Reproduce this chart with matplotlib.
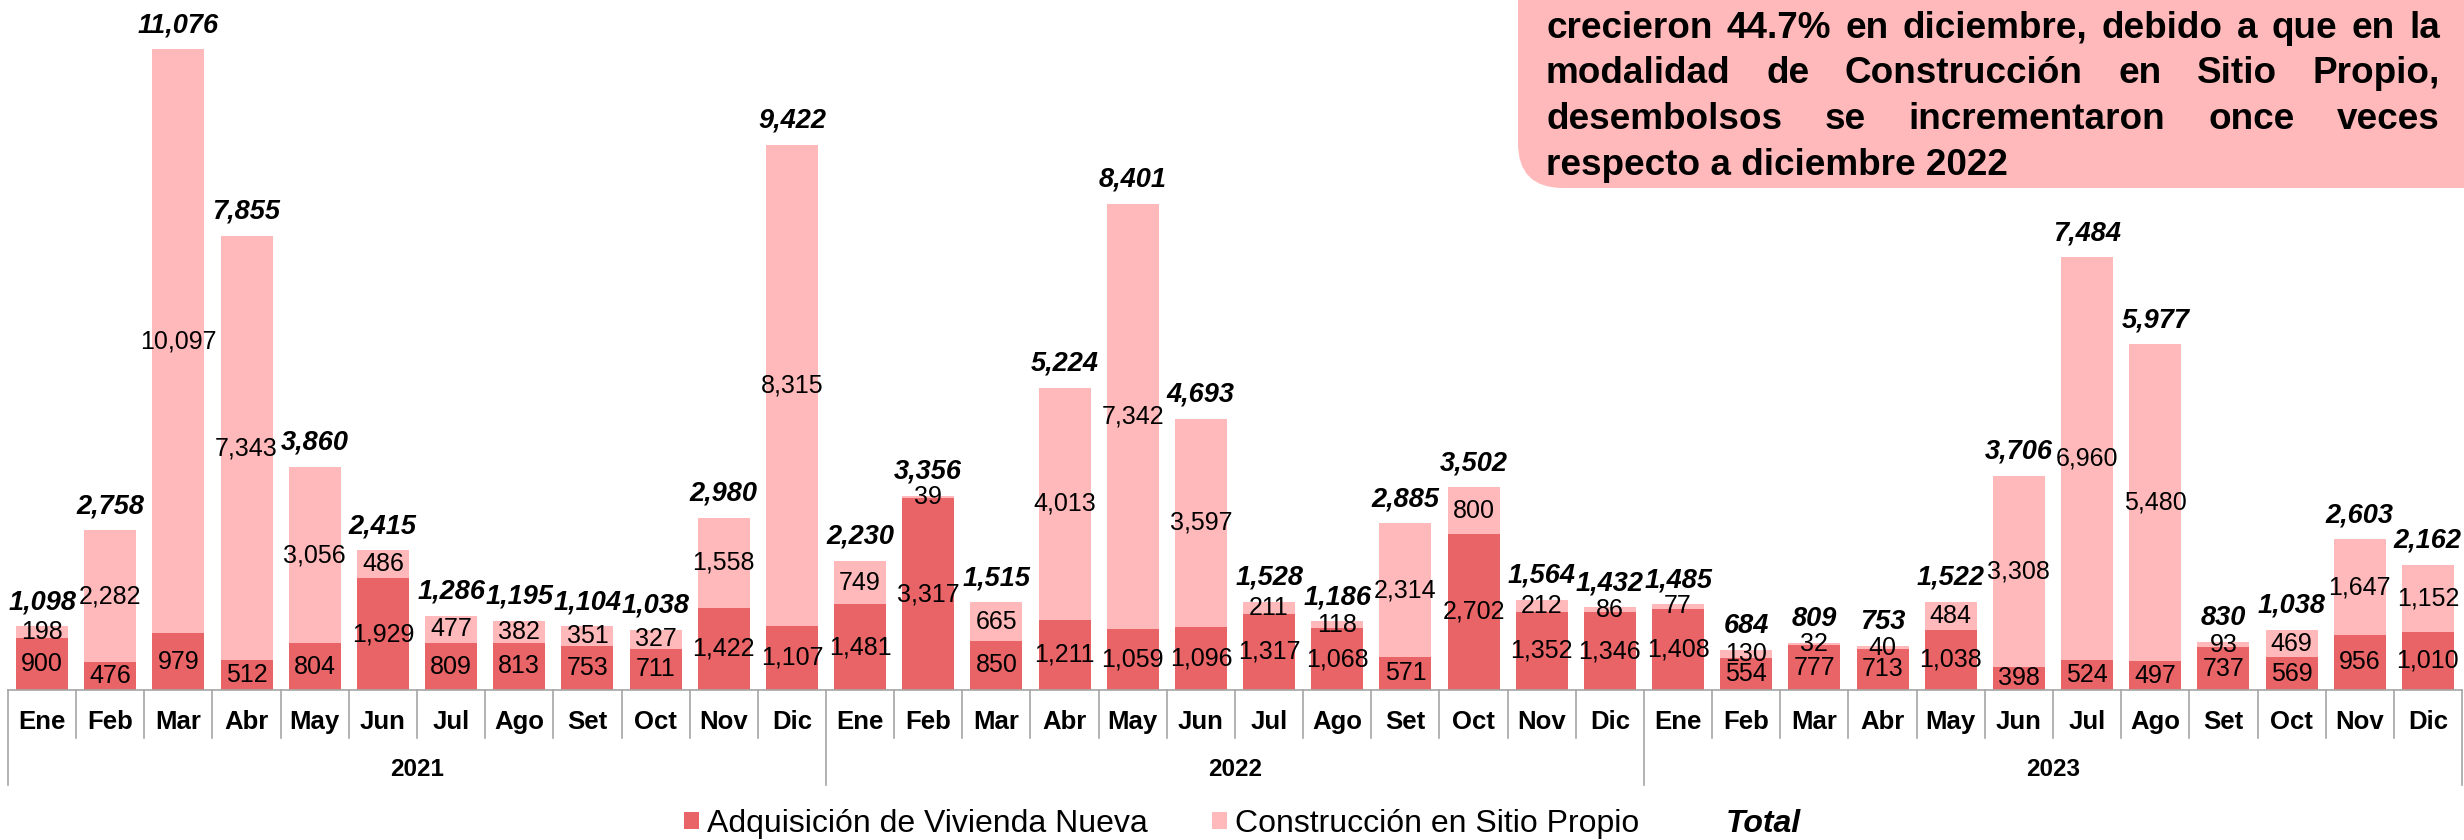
"""
Desembolsos mensuales Techo Propio 2021-2023 (barras apiladas + total).
"""

import matplotlib
matplotlib.use("Agg")
import matplotlib.pyplot as plt
import matplotlib.patches as mpatches
import matplotlib.transforms as mtransforms
from matplotlib.lines import Line2D
import numpy as np

# ── Datos ─────────────────────────────────────────────────────────────────────
meses = ["Ene", "Feb", "Mar", "Abr", "May", "Jun",
         "Jul", "Ago", "Set", "Oct", "Nov", "Dic"]
anios = ["2021", "2022", "2023"]

vivienda_nueva = [900, 476, 979, 512, 804, 1929, 809, 813, 753, 711, 1422, 1107,
                  1481, 3317, 850, 1211, 1059, 1096, 1317, 1068, 571, 2702, 1352, 1346,
                  1408, 554, 777, 713, 1038, 398, 524, 497, 737, 569, 956, 1010]
sitio_propio = [198, 2282, 10097, 7343, 3056, 486, 477, 382, 351, 327, 1558, 8315,
                749, 39, 665, 4013, 7342, 3597, 211, 118, 2314, 800, 212, 86,
                77, 130, 32, 40, 484, 3308, 6960, 5480, 93, 469, 1647, 1152]
total = [1098, 2758, 11076, 7855, 3860, 2415, 1286, 1195, 1104, 1038, 2980, 9422,
         2230, 3356, 1515, 5224, 8401, 4693, 1528, 1186, 2885, 3502, 1564, 1432,
         1485, 684, 809, 753, 1522, 3706, 7484, 5977, 830, 1038, 2603, 2162]

nota = ["crecieron 44.7% en diciembre, debido a que en la",
        "modalidad de Construcción en Sitio Propio,",
        "desembolsos se incrementaron once veces",
        "respecto a diciembre 2022"]

OSCURO = "#E96466"
CLARO  = "#FFB9BA"
GRIS   = "#A6A6A6"

plt.rcParams["font.family"] = ["Liberation Sans", "DejaVu Sans"]

W, H = 2464, 840
fig = plt.figure(figsize=(W / 100, H / 100), dpi=100)
ax = fig.add_axes([8 / W, 150 / H, 2454 / W, 690 / H])

x = np.arange(len(anios) * len(meses))
b1 = ax.bar(x, vivienda_nueva, width=0.765, color=OSCURO,
            label="Adquisición de Vivienda Nueva", zorder=2)
b2 = ax.bar(x, sitio_propio, bottom=vivienda_nueva, width=0.765, color=CLARO,
            label="Construcción en Sitio Propio", zorder=2)

ax.bar_label(b1, labels=[f"{v:,}" for v in vivienda_nueva],
             label_type="center", fontsize=18)
ax.bar_label(b2, labels=[f"{v:,}" for v in sitio_propio],
             label_type="center", fontsize=18)
ax.bar_label(b2, labels=[f"{v:,}" for v in total], padding=8,
             fontsize=19.5, fontweight="bold", fontstyle="italic")

ax.set_xlim(-0.5, len(x) - 0.5)
ax.set_ylim(0, 11930)
ax.axis("off")

# ── Eje x de dos niveles ──────────────────────────────────────────────────────
trans = mtransforms.blended_transform_factory(ax.transData, fig.transFigure)
y_base = 150 / H
ax.plot([-0.5, len(x) - 0.5], [y_base, y_base], transform=trans,
        color=GRIS, lw=1.2, clip_on=False)
for k in range(len(x) + 1):
    y_fin = 785 if k % 12 == 0 else 738
    ax.plot([k - 0.5, k - 0.5], [y_base, (H - y_fin) / H], transform=trans,
            color=GRIS, lw=1.2, clip_on=False)

for i in x:
    ax.text(i, (H - 722) / H, meses[i % 12], transform=trans, ha="center",
            va="center", fontsize=18.5, fontweight="bold")
for j, a in enumerate(anios):
    ax.text(12 * j + 5.5, (H - 770) / H, a, transform=trans, ha="center",
            va="center", fontsize=17.5, fontweight="bold")

# ── Leyenda ───────────────────────────────────────────────────────────────────
handles = [b1, b2, Line2D([], [], linestyle="none", label="Total")]
leg = fig.legend(handles=handles, loc="center",
                 bbox_to_anchor=(1242.5 / W, (H - 824) / H), ncol=3,
                 frameon=False, fontsize=23, handlelength=0.47,
                 handleheight=0.47, handletextpad=0.25, columnspacing=2.0)
leg.get_texts()[2].set_fontweight("bold")
leg.get_texts()[2].set_fontstyle("italic")

# ── Recuadro de nota (justificado) ───────────────────────────────────────────
inch = fig.dpi_scale_trans
caja = mpatches.FancyBboxPatch((1518 / 100, (H - 188) / 100), 11.0, 4.0,
                               boxstyle="round,pad=0,rounding_size=0.45",
                               transform=inch, facecolor=CLARO,
                               edgecolor="none", zorder=5)
fig.add_artist(caja)

renderer = fig.canvas.get_renderer()


def ancho(s, size):
    t = fig.text(0, 0, s, fontsize=size, fontweight="bold")
    w = t.get_window_extent(renderer).width
    t.remove()
    return w


tam = 10 * 461 / ancho(nota[-1], 10)
x0, x1 = 1546, 2440
for n, linea in enumerate(nota):
    yc = (H - (28 + 45.7 * n)) / 100
    palabras = linea.split()
    if n == len(nota) - 1:
        fig.text(x0 / 100, yc, linea, transform=inch, ha="left", va="center",
                 fontsize=tam, fontweight="bold", zorder=6)
        continue
    anchos = [ancho(p, tam) for p in palabras]
    hueco = (x1 - x0 - sum(anchos)) / (len(palabras) - 1)
    xp = x0
    for p, w in zip(palabras, anchos):
        fig.text(xp / 100, yc, p, transform=inch, ha="left", va="center",
                 fontsize=tam, fontweight="bold", zorder=6)
        xp += w + hueco

fig.savefig("out.png", dpi=100)
print("out.png ✓")
